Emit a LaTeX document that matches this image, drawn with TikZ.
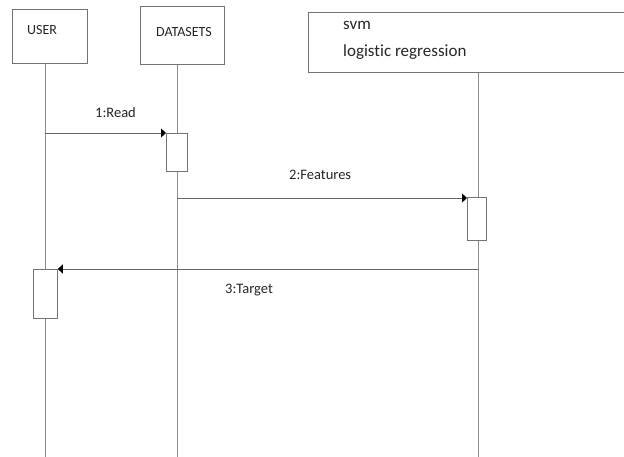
\documentclass[tikz,border=0pt]{standalone}
\usepackage{fontspec}
\setmainfont{Carlito}[Ligatures=NoCommon]
\usetikzlibrary{arrows.meta,positioning}

\tikzset{
  head/.style={draw=black!55,line width=.8pt,minimum height=54pt},
  headtxt/.style={anchor=base west,inner sep=0pt,text=black!85,font=\fontsize{14}{16}\selectfont},
  actbox/.style={draw=black!55,line width=.8pt,fill=white,minimum width=21pt,inner sep=0pt},
  life/.style={draw=black!45,line width=.8pt},
  msg/.style={draw=black!60,line width=.8pt,-{Triangle[length=5pt,width=9pt,black]}},
  msglbl/.style={anchor=base west,inner sep=0pt,text=black!85,font=\fontsize{14.5}{16}\selectfont}
}

\begin{document}
\begin{tikzpicture}[x=1pt,y=-1pt]
\useasboundingbox (0,0) rectangle (624,457);
\clip (0,0) rectangle (624,457);
% objects
\node[head,minimum width=75pt,anchor=north west] (user) at (12,9) {};
\node[headtxt] (usertxt) at (27,35) {USER};
\node[head,minimum width=84pt,minimum height=58pt,anchor=north west] (data) at (140,6) {};
\node[headtxt] (datatxt) at (156,37) {DATASETS};
\node[head,minimum width=330pt,minimum height=60pt,anchor=north west] (model) at (308,12) {};
\node[headtxt,font=\fontsize{17}{20}\selectfont] (svmtxt) at (343,30) {svm};
\node[headtxt,font=\fontsize{17}{20}\selectfont] (lrtxt) at (343,57) {logistic regression};
% lifelines
\coordinate (userend) at (45,460);
\coordinate (dataend) at (177,460);
\coordinate (modelend) at (478,460);
\draw[life] (user.south -| userend) -- (userend);
\draw[life] (data.south -| dataend) -- (dataend);
\draw[life] (model.south -| modelend) -- (modelend);
% activations
\node[actbox,minimum height=38pt,anchor=north west] (act1) at (166,133) {};
\node[actbox,minimum width=19pt,minimum height=43pt,anchor=north west] (act2) at (467,197) {};
\node[actbox,minimum width=24pt,minimum height=49pt,anchor=north west] (act3) at (33,269) {};
% messages
\coordinate (s1) at (45,133);
\coordinate (s2) at (177,198);
\coordinate (s3) at (478,269);
\draw[msg] (s1) -- (act1.north west);
\node[msglbl] (lbl1) at (95,118) {1:Read};
\draw[msg] (s2) -- (act2.north west |- s2);
\node[msglbl] (lbl2) at (289,180) {2:Features};
\draw[msg] (s3) -- (act3.north east);
\node[msglbl] (lbl3) at (225,294) {3:Target};
\end{tikzpicture}
\end{document}
